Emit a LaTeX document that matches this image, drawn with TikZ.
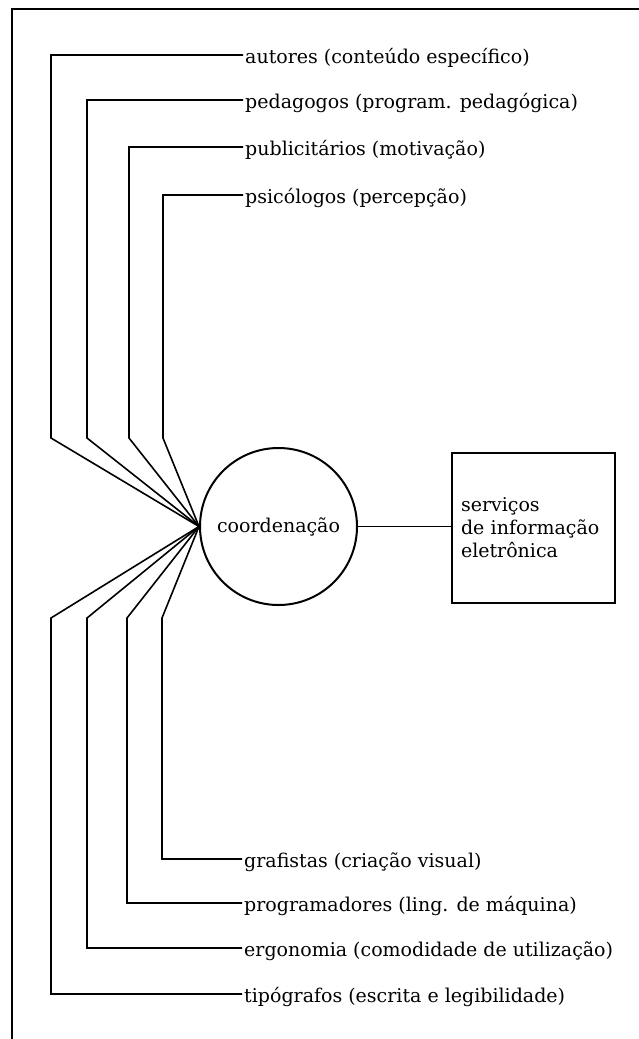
\documentclass[tikz,border=0pt]{standalone}
\usepackage{fontspec}
\setmainfont{DejaVu Serif}
\begin{document}
\begin{tikzpicture}[x=1pt,y=-1pt,
  conn/.style={line width=1.6pt, line join=miter},
  lab/.style={anchor=west, inner xsep=2pt, inner ysep=0pt, text height=18pt, text depth=2pt, font=\fontsize{19}{23}\selectfont},
  frame/.style={line width=1.8pt}]
\useasboundingbox (0,0) rectangle (639,1039);
% frame
\coordinate (ftl) at (12,9);
\coordinate (fbl) at (12,1039);
\coordinate (ftr) at (639,9);
\draw[frame] (fbl) -- (ftl) -- (ftr);
% central nodes
\node[draw, circle, line width=2pt, minimum size=157pt, inner sep=0pt, font=\fontsize{19}{23}\selectfont] (coord) at (278.5,526.5) {coordenação};
\node[draw, rectangle, line width=2pt, minimum height=150pt, text width=145pt, inner xsep=9pt, align=left, font=\fontsize{19}{23}\selectfont] (serv) at (533.5,528) {serviços\\de informação\\eletrônica};
\draw[conn] (coord.east) -- (coord.east -| serv.west);
% top labels
\node[lab] (t1) at (243,55) {autores (conteúdo específico)};
\node[lab] (t2) at (243,100) {pedagogos (program. pedagógica)};
\node[lab] (t3) at (243,147) {publicitários (motivação)};
\node[lab] (t4) at (243,195) {psicólogos (percepção)};
% bottom labels
\node[lab] (b4) at (242,859) {grafistas (criação visual)};
\node[lab] (b3) at (242,903) {programadores (ling. de máquina)};
\node[lab] (b2) at (242,948) {ergonomia (comodidade de utilização)};
\node[lab] (b1) at (242,994) {tipógrafos (escrita e legibilidade)};
% bends
\coordinate (tb1) at (51,438);
\coordinate (tb2) at (87,438);
\coordinate (tb3) at (129,438);
\coordinate (tb4) at (163,438);
\coordinate (bb1) at (51,618);
\coordinate (bb2) at (87,618);
\coordinate (bb3) at (127,618);
\coordinate (bb4) at (162,618);
\foreach \i in {1,2,3,4}{
  \draw[conn] (coord.west) -- (tb\i) |- (t\i.west);
  \draw[conn] (coord.west) -- (bb\i) |- (b\i.west);
}
\end{tikzpicture}
\end{document}
